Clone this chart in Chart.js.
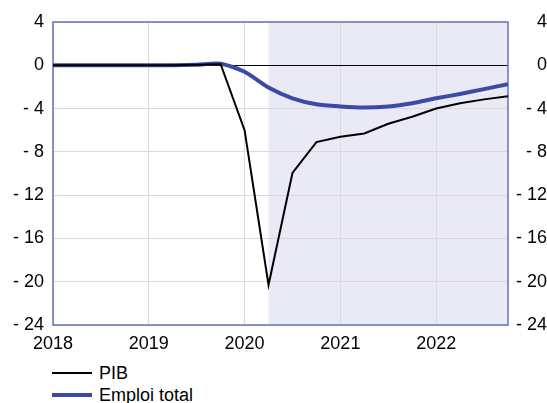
<!DOCTYPE html>
<html><head><meta charset="utf-8">
<script src="https://cdn.jsdelivr.net/npm/chart.js@4/dist/chart.umd.min.js"></script>
<style>
html,body{margin:0;padding:0;background:#fff;}
#wrap{position:relative;width:547px;height:403px;overflow:hidden;font-family:"Liberation Sans",Arial,sans-serif;}
#c{position:absolute;left:0;top:0;}
.leg{position:absolute;left:52px;font-size:18px;line-height:20px;color:#000;display:flex;align-items:center;}
.leg span.l{display:inline-block;width:40px;margin-right:7px;}
</style></head>
<body><div id="wrap"><canvas id="c" width="547" height="360"></canvas>
<div class="leg" style="top:363px"><span class="l" style="border-top:2px solid #000"></span>PIB</div>
<div class="leg" style="top:385px"><span class="l" style="border-top:4px solid #3B4BA5"></span>Emploi total</div>
</div>
<script>
const quarters = [2018,2018.25,2018.5,2018.75,2019,2019.25,2019.5,2019.75,2020,2020.25,2020.5,2020.75,2021,2021.25,2021.5,2021.75,2022,2022.25,2022.5,2022.75];
const pib    = [0,0,0,0,0,0,0.05,0.1,-6.0,-20.3,-9.95,-7.1,-6.6,-6.3,-5.4,-4.75,-4.0,-3.5,-3.15,-2.85];
const emploi = [0,0,0,0,0,0,0.05,0.15,-0.6,-2.05,-3.05,-3.6,-3.8,-3.9,-3.8,-3.5,-3.05,-2.65,-2.2,-1.75];
const yTicks = [4,0,-4,-8,-12,-16,-20,-24];
const xYears = [2018,2019,2020,2021,2022];
const shadeStart = 2020.25;

const fmt = v => v < 0 ? '- ' + Math.abs(v) : String(v);
const F = {family:'"Liberation Sans", Arial, sans-serif', size:18};

const shade = {
  id:'shade',
  beforeDraw(chart){
    const {ctx, chartArea:a, scales:{x}} = chart;
    const x0 = x.getPixelForValue(shadeStart);
    ctx.save(); ctx.fillStyle = '#EAE9F6';
    ctx.fillRect(x0, a.top, a.right - x0, a.bottom - a.top);
    ctx.restore();
  },
  beforeDatasetsDraw(chart){
    const {ctx, chartArea:a} = chart;
    ctx.save(); ctx.strokeStyle = '#6473BC'; ctx.lineWidth = 1.5;
    ctx.strokeRect(a.left, a.top, a.right - a.left, a.bottom - a.top);
    ctx.restore();
  }
};

new Chart(document.getElementById('c'), {
  type:'line',
  data:{datasets:[
    {label:'PIB', data:quarters.map((q,i)=>({x:q,y:pib[i]})), borderColor:'#000', borderWidth:2, pointRadius:0, tension:0},
    {label:'Emploi total', data:quarters.map((q,i)=>({x:q,y:emploi[i]})), borderColor:'#3B4BA5', borderWidth:4, pointRadius:0, tension:0.25, yAxisID:'y'}
  ]},
  options:{
    responsive:false, animation:false,
    layout:{padding:{top:22,left:0,right:0,bottom:0}},
    plugins:{legend:{display:false}, tooltip:{enabled:false}},
    scales:{
      x:{type:'linear', min:2018, max:2022.75,
         afterBuildTicks: s => { s.ticks = xYears.map(v=>({value:v})); },
         ticks:{font:F, color:'#000', padding:8, callback:v=>String(v), maxRotation:0},
         grid:{color:'#D9D9D9', lineWidth:1, drawTicks:false},
         border:{display:false},
         afterFit: s => { s.height = 35; }},
      y:{position:'left', min:-24, max:4,
         afterBuildTicks: s => { s.ticks = yTicks.map(v=>({value:v})); },
         ticks:{font:F, color:'#000', padding:9, callback:fmt},
         grid:{color: c => c.tick && c.tick.value === 0 ? '#000' : '#D9D9D9', lineWidth:1, drawTicks:false},
         border:{display:false},
         afterFit: s => { s.width = 53; }},
      y2:{position:'right', min:-24, max:4,
         afterBuildTicks: s => { s.ticks = yTicks.map(v=>({value:v})); },
         ticks:{font:F, color:'#000', padding:0, crossAlign:'far', callback:fmt},
         grid:{display:false, drawTicks:false},
         border:{display:false},
         afterFit: s => { s.width = 39; }}
    }
  },
  plugins:[shade]
});
</script></body></html>
